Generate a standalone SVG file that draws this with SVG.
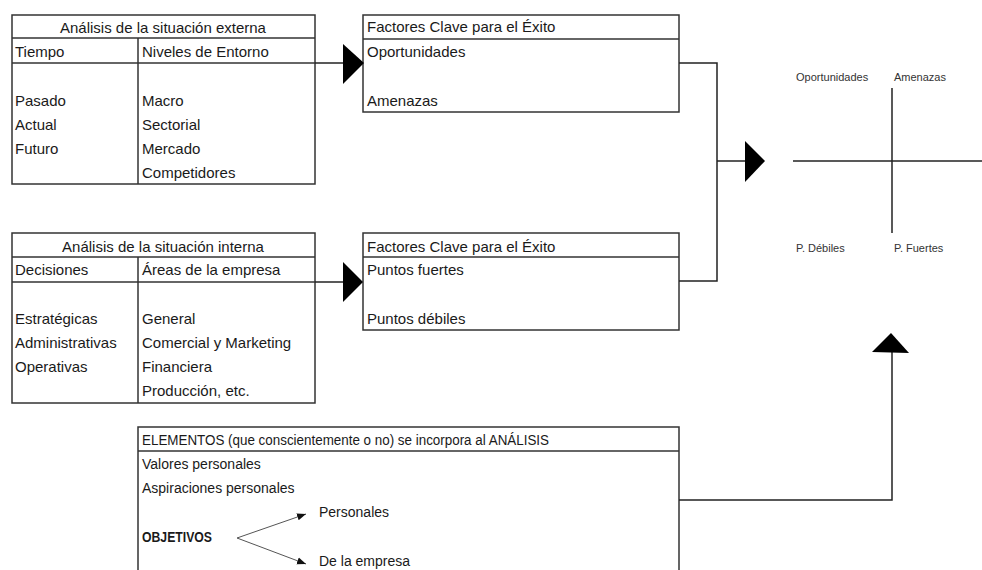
<svg xmlns="http://www.w3.org/2000/svg" width="982" height="570" viewBox="0 0 982 570">
<style>
.box{fill:#fff;stroke:#333;stroke-width:1.5}
.ln{fill:none;stroke:#333;stroke-width:1.5}
.con{fill:none;stroke:#222;stroke-width:1.5}
.head{fill:#000}
t,text{font-family:"Liberation Sans",Arial,sans-serif;fill:#1a1a1a}
.t15{font-size:15px}
.t14{font-size:14px}
.t11{font-size:11px;fill:#333}
.b{font-weight:bold}
.thin{fill:none;stroke:#555;stroke-width:1}
</style>
<defs>
<marker id="sm" viewBox="0 0 10 10" refX="10" refY="5" markerWidth="9" markerHeight="9" markerUnits="userSpaceOnUse" orient="auto">
<path d="M0,1 L10,5 L0,9 Z" fill="#111"/>
</marker>
</defs>

<g id="externa">
<rect class="box" x="12" y="15" width="303" height="169"/>
<line class="ln" x1="12" y1="38" x2="315" y2="38"/>
<line class="ln" x1="12" y1="63" x2="315" y2="63"/>
<line class="ln" x1="138" y1="38" x2="138" y2="184"/>
<text class="t15" x="163" y="33" text-anchor="middle">Análisis de la situación externa</text>
<text class="t15" x="15" y="57">Tiempo</text>
<text class="t15" x="142" y="57">Niveles de Entorno</text>
<text class="t15" x="15" y="106">Pasado</text>
<text class="t15" x="15" y="130">Actual</text>
<text class="t15" x="15" y="154">Futuro</text>
<text class="t15" x="142" y="106">Macro</text>
<text class="t15" x="142" y="130">Sectorial</text>
<text class="t15" x="142" y="154">Mercado</text>
<text class="t15" x="142" y="178">Competidores</text>
</g>

<g id="fce-externa">
<rect class="box" x="363" y="15" width="316" height="97"/>
<line class="ln" x1="363" y1="39" x2="679" y2="39"/>
<text class="t15" x="367" y="32">Factores Clave para el Éxito</text>
<text class="t15" x="367" y="57">Oportunidades</text>
<text class="t15" x="367" y="106">Amenazas</text>
</g>

<g id="interna">
<rect class="box" x="12" y="233" width="303" height="170"/>
<line class="ln" x1="12" y1="257" x2="315" y2="257"/>
<line class="ln" x1="12" y1="282" x2="315" y2="282"/>
<line class="ln" x1="138" y1="257" x2="138" y2="403"/>
<text class="t15" x="163" y="252" text-anchor="middle">Análisis de la situación interna</text>
<text class="t15" x="15" y="275">Decisiones</text>
<text class="t15" x="142" y="275">Áreas de la empresa</text>
<text class="t15" x="15" y="324">Estratégicas</text>
<text class="t15" x="15" y="348">Administrativas</text>
<text class="t15" x="15" y="372">Operativas</text>
<text class="t15" x="142" y="324">General</text>
<text class="t15" x="142" y="348">Comercial y Marketing</text>
<text class="t15" x="142" y="372">Financiera</text>
<text class="t15" x="142" y="396">Producción, etc.</text>
</g>

<g id="fce-interna">
<rect class="box" x="363" y="233" width="316" height="97"/>
<line class="ln" x1="363" y1="257" x2="679" y2="257"/>
<text class="t15" x="367" y="252">Factores Clave para el Éxito</text>
<text class="t15" x="367" y="275">Puntos fuertes</text>
<text class="t15" x="367" y="324">Puntos débiles</text>
</g>

<g id="elementos">
<path class="box" d="M138,572 L138,427 L679,427 L679,572"/>
<line class="ln" x1="138" y1="451" x2="679" y2="451"/>
<text class="t14" x="142" y="445" textLength="407" lengthAdjust="spacingAndGlyphs">ELEMENTOS (que conscientemente o no) se incorpora al ANÁLISIS</text>
<text class="t14" x="142" y="469">Valores personales</text>
<text class="t14" x="142" y="493">Aspiraciones personales</text>
<text class="t14 b" x="142" y="542" textLength="70" lengthAdjust="spacingAndGlyphs">OBJETIVOS</text>
<text class="t14" x="319" y="517">Personales</text>
<text class="t14" x="319" y="566">De la empresa</text>
<line class="thin" x1="237" y1="538" x2="306" y2="514" marker-end="url(#sm)"/>
<line class="thin" x1="237" y1="538" x2="306" y2="564" marker-end="url(#sm)"/>
</g>

<g id="matriz">
<line class="con" x1="793" y1="161" x2="982" y2="161"/>
<line class="con" x1="892" y1="88" x2="892" y2="233"/>
<text class="t11" x="796" y="81">Oportunidades</text>
<text class="t11" x="894" y="81">Amenazas</text>
<text class="t11" x="796" y="252">P. Débiles</text>
<text class="t11" x="894" y="252">P. Fuertes</text>
</g>

<g id="connectors">
<line class="con" x1="315" y1="63" x2="345" y2="63"/>
<polygon class="head" points="343,44 364,63 343,84"/>
<line class="con" x1="315" y1="282" x2="345" y2="282"/>
<polygon class="head" points="343,262 363,282 343,302"/>
<polyline class="con" points="679,63 717,63 717,281 679,281"/>
<line class="con" x1="717" y1="161" x2="747" y2="161"/>
<polygon class="head" points="745,141 765,161 745,182"/>
<polyline class="con" points="679,500 892,500 892,351"/>
<polygon class="head" points="872,352 891,333 909,353"/>
</g>
</svg>
